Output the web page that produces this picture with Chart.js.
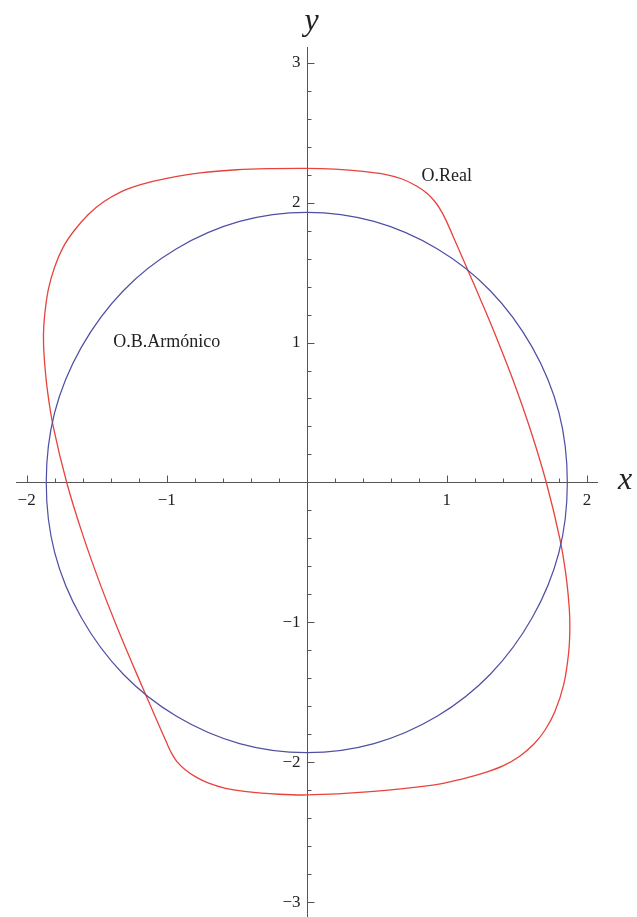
<!DOCTYPE html>
<html>
<head>
<meta charset="utf-8">
<script src="https://cdn.jsdelivr.net/npm/chart.js@4/dist/chart.umd.min.js"></script>
<style>
  html, body { margin: 0; padding: 0; background: #fff; }
  canvas { display: block; }
</style>
</head>
<body>
<canvas id="orbitas" width="637" height="917"></canvas>
<script>
// Órbita real (x, p), recorrida en sentido horario desde arriba;
// los dos últimos puntos repiten el comienzo para cerrar la curva
const realX = [0.00, 0.20, 0.40, 0.55, 0.68, 0.78, 0.86, 0.92, 0.965, 1.00, 1.07, 1.157, 1.256, 1.36, 1.473,
  1.597, 1.71, 1.806, 1.85, 1.874, 1.878, 1.869, 1.835, 1.77, 1.70, 1.62, 1.52, 1.40, 1.26, 1.12,
  0.90, 0.43, 0.00, -0.20, -0.43, -0.58, -0.70, -0.79, -0.87, -0.93, -0.97, -1.00, -1.07, -1.157,
  -1.256, -1.36, -1.481, -1.604, -1.714, -1.81, -1.852, -1.875, -1.88, -1.871, -1.845, -1.80, -1.74,
  -1.66, -1.56, -1.45, -1.32, -1.18, -1.00, -0.76, -0.50, -0.25, 0.00, 0.20, 0.40];
const realY = [2.244, 2.238, 2.223, 2.203, 2.168, 2.120, 2.065, 2.000, 1.930, 1.860, 1.700, 1.500, 1.270, 1.020, 0.730,
  0.375, 0.000, -0.399, -0.660, -0.900, -1.050, -1.220, -1.440, -1.640, -1.770, -1.870, -1.955, -2.025, -2.077, -2.115,
  -2.162, -2.210, -2.232, -2.227, -2.209, -2.185, -2.148, -2.105, -2.050, -1.990, -1.925, -1.860, -1.700, -1.500,
  -1.270, -1.020, -0.710, -0.360, 0.000, 0.399, 0.660, 0.900, 1.050, 1.200, 1.380, 1.540, 1.680,
  1.800, 1.915, 2.005, 2.080, 2.130, 2.173, 2.212, 2.234, 2.242, 2.244, 2.238, 2.223];

// Órbita del oscilador armónico (mismo cierre)
const armX = [0.00, 0.48, 0.93, 1.31, 1.61, 1.80, 1.86, 1.80, 1.61, 1.31, 0.93, 0.48, 0.00,
  -0.48, -0.93, -1.31, -1.61, -1.80, -1.86, -1.80, -1.61, -1.31, -0.93, -0.48, 0.00, 0.48, 0.93];
const armY = [1.93, 1.865, 1.67, 1.37, 0.965, 0.50, 0.00, -0.50, -0.965, -1.37, -1.67, -1.865, -1.93,
  -1.865, -1.67, -1.37, -0.965, -0.50, 0.00, 0.50, 0.965, 1.37, 1.67, 1.865, 1.93, 1.865, 1.67];

const xTicks = [-2, -1, 1, 2];
const yTicks = [-3, -2, -1, 1, 2, 3];

const etiquetas = [
  { texto: 'O.Real', x: 1.0, y: 2.19 },
  { texto: 'O.B.Armónico', x: -1.0, y: 1.0 }
];

const puntos = (xs, ys) => xs.map((x, i) => ({ x, y: ys[i] }));
const fmt = v => (v < 0 ? '\u2212' + Math.abs(v) : String(v));

// el primer y el último tramo quedan sin tangente completa: se ocultan,
// la curva ya pasa por ellos en la vuelta
const cierre = n => ({
  borderColor: c => (c.p0DataIndex === 0 || c.p1DataIndex === n - 1 ? 'rgba(0,0,0,0)' : undefined)
});

const AXIS = '#555555';
const SERIF = '"Liberation Serif", "DejaVu Serif", serif';

// Ejes cruzando por el origen, al estilo de Mathematica
const ejes = {
  id: 'ejes',
  beforeDatasetsDraw(chart) {
    const { ctx, chartArea: a, scales: { x: xs, y: ys } } = chart;
    const x0 = Math.round(xs.getPixelForValue(0)) + 0.5;
    const y0 = Math.round(ys.getPixelForValue(0)) + 0.5;

    ctx.save();
    ctx.strokeStyle = AXIS;
    ctx.lineWidth = 1;
    ctx.beginPath();
    ctx.moveTo(a.left, y0); ctx.lineTo(a.right, y0);
    ctx.moveTo(x0, a.top); ctx.lineTo(x0, a.bottom);

    for (let i = -10; i <= 10; i++) {
      if (i === 0) continue;
      const px = Math.round(xs.getPixelForValue(i / 5)) + 0.5;
      const len = i % 5 === 0 ? 7 : 4;
      ctx.moveTo(px, y0); ctx.lineTo(px, y0 - len);
    }
    for (let i = -15; i <= 15; i++) {
      if (i === 0) continue;
      const py = Math.round(ys.getPixelForValue(i / 5)) + 0.5;
      const len = i % 5 === 0 ? 7 : 4;
      ctx.moveTo(x0, py); ctx.lineTo(x0 + len, py);
    }
    ctx.stroke();

    ctx.fillStyle = '#222';
    ctx.font = '17px ' + SERIF;
    ctx.textAlign = 'center';
    ctx.textBaseline = 'middle';
    xTicks.forEach(v => ctx.fillText(fmt(v), xs.getPixelForValue(v), y0 + 18));
    ctx.textAlign = 'right';
    yTicks.forEach(v => ctx.fillText(fmt(v), x0 - 7, ys.getPixelForValue(v)));

    ctx.font = 'italic 32px ' + SERIF;
    ctx.textAlign = 'center';
    ctx.textBaseline = 'alphabetic';
    ctx.fillText('x', a.right + 27, y0 + 6);
    ctx.fillText('y', x0 + 4, a.top - 17);
    ctx.restore();
  },
  afterDatasetsDraw(chart) {
    const { ctx, scales: { x: xs, y: ys } } = chart;
    ctx.save();
    ctx.fillStyle = '#222';
    ctx.font = '18px ' + SERIF;
    ctx.textAlign = 'center';
    ctx.textBaseline = 'middle';
    etiquetas.forEach(e => ctx.fillText(e.texto, xs.getPixelForValue(e.x), ys.getPixelForValue(e.y)));
    ctx.restore();
  }
};

new Chart(document.getElementById('orbitas'), {
  type: 'scatter',
  data: {
    datasets: [
      {
        label: 'O.B.Armónico',
        data: puntos(armX, armY),
        showLine: true,
        borderColor: '#4f4fa3',
        borderWidth: 1.2,
        pointRadius: 0,
        tension: 0.34,
        fill: false,
        segment: cierre(armX.length)
      },
      {
        label: 'O.Real',
        data: puntos(realX, realY),
        showLine: true,
        borderColor: '#e8423c',
        borderWidth: 1.3,
        pointRadius: 0,
        tension: 0.35,
        fill: false,
        segment: cierre(realX.length)
      }
    ]
  },
  options: {
    responsive: false,
    animation: false,
    devicePixelRatio: 1,
    layout: { padding: { left: 16, right: 39, top: 47, bottom: 0 } },
    plugins: {
      legend: { display: false },
      tooltip: { enabled: false }
    },
    scales: {
      x: { type: 'linear', min: -2.076, max: 2.079, display: false },
      y: { type: 'linear', min: -3.104, max: 3.111, display: false }
    }
  },
  plugins: [ejes]
});
</script>
</body>
</html>
